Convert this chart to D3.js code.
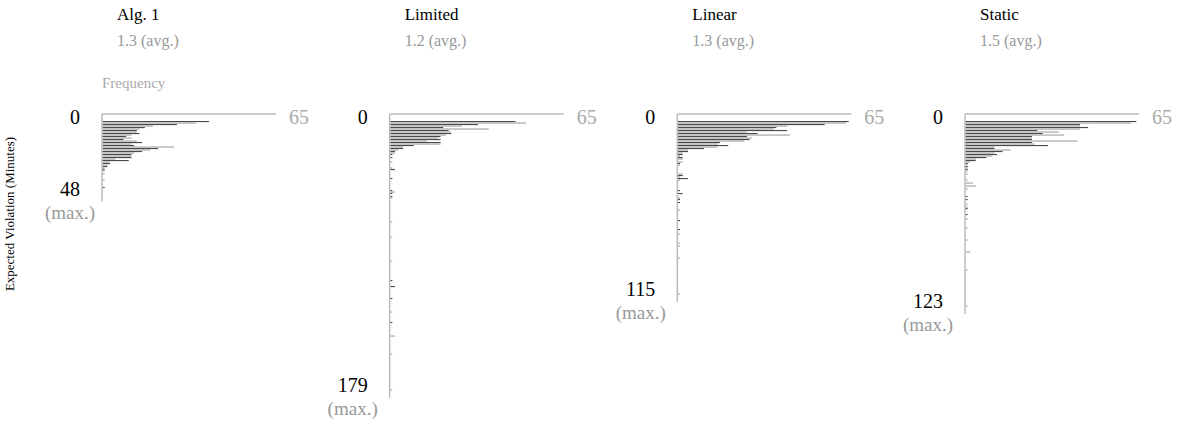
<!DOCTYPE html>
<html>
<head>
<meta charset="utf-8">
<script src="https://cdn.jsdelivr.net/npm/d3@7"></script>
<style>
  body { margin: 0; background: #fff; }
  text { font-family: "Liberation Serif", "Times New Roman", serif; }
</style>
</head>
<body>
<svg id="chart" width="1183" height="431"></svg>
<script>
// panel titles, averages and maxima (minutes)
const names = ["Alg. 1", "Limited", "Linear", "Static"];
const avgs = ["1.3", "1.2", "1.3", "1.5"];
const maxima = [48, 179, 115, 123];
const freqTop = 65;

// frequency per 1-minute bin starting at 0
const algHead = [40, 35, 28, 19, 16, 14, 13, 13, 14, 11, 9, 11, 8, 13, 15, 11, 12, 27, 21, 18, 15, 12, 11, 11, 11, 5, 10, 3, 3, 2, 2, 1, 1, 1];
const limitedHead = [47, 51, 33, 27, 20, 37, 22, 23, 23, 21, 19, 18, 19, 14, 19, 19, 9, 5, 5, 3, 2, 2, 1, 0, 1];
const linearHead = [64, 63, 55, 41, 37, 36, 41, 26, 30, 42, 26, 28, 27, 25, 16, 15, 19, 15, 10, 4, 4, 2, 2, 1, 2, 2, 0, 2, 1, 1];
const staticHead = [64, 62, 43, 43, 46, 43, 27, 35, 29, 37, 25, 25, 25, 42, 25, 26, 31, 11, 11, 17, 14, 11, 12, 10, 8, 4, 4, 2, 1, 1, 1, 1, 1, 1];

// sparse long tail: [minute, frequency]
const algTail = [[35, 1], [39, 1], [44, 1]];
const limitedTail = [[27, 1], [31, 1], [32, 2], [38, 1], [46, 1], [47, 2], [48, 1], [50, 1], [51, 1], [67, 1], [77, 1], [93, 1], [106, 1], [110, 2], [118, 1], [127, 1], [134, 1], [143, 2], [155, 1], [179, 1]];
const linearTail = [[35, 2], [36, 2], [37, 1], [38, 4], [39, 1], [46, 1], [48, 2], [51, 1], [52, 1], [54, 1], [59, 1], [66, 1], [72, 1], [75, 1], [81, 1], [83, 1], [91, 1], [115, 1]];
const staticTail = [[35, 1], [39, 1], [41, 3], [43, 4], [45, 1], [50, 1], [52, 1], [55, 1], [57, 1], [58, 1], [62, 1], [65, 1], [71, 1], [79, 1], [87, 2], [99, 1], [123, 1]];

const heads = [algHead, limitedHead, linearHead, staticHead];
const tails = [algTail, limitedTail, linearTail, staticTail];

const svg = d3.select("#chart");

const px = d3.scalePoint().domain(names).range([102, 965]);
const y = d3.scaleLinear().domain([0, 200]).range([121.5, 121.5 + 200 * 1.5]);
const topY = 114;
const barLen = 174;

const grey = "#999";

names.forEach((name, i) => {
  const ax = px(name);
  const x = d3.scaleLinear().domain([0, freqTop]).range([ax, ax + barLen]);
  const bins = heads[i].map((f, m) => ({ m: m, f: f }))
    .concat(tails[i].map(d => ({ m: d[0], f: d[1] })))
    .filter(d => d.f > 0);
  const yMax = y(maxima[i]);
  const endY = yMax + 8;

  const g = svg.append("g");

  g.append("text")
    .attr("x", ax + 15).attr("y", 20)
    .attr("font-size", 17).attr("fill", "#000")
    .text(name);
  g.append("text")
    .attr("x", ax + 15).attr("y", 46)
    .attr("font-size", 16).attr("fill", grey)
    .text(avgs[i] + " (avg.)");

  // axes
  g.append("line")
    .attr("x1", ax).attr("x2", x(freqTop))
    .attr("y1", topY).attr("y2", topY)
    .attr("stroke", "#bbb").attr("stroke-width", 1.5);
  g.append("line")
    .attr("x1", ax).attr("x2", ax)
    .attr("y1", topY).attr("y2", endY)
    .attr("stroke", "#bbb").attr("stroke-width", 1.5);

  g.selectAll("rect")
    .data(bins)
    .join("rect")
    .attr("x", ax + 0.75)
    .attr("y", d => y(d.m) - 0.5)
    .attr("width", d => Math.max(0, x(d.f) - ax - 0.75))
    .attr("height", 1.1)
    .attr("fill", d => d.m % 2 ? "#a0a0a0" : "#4a4a4a");

  g.append("text")
    .attr("x", ax - 22).attr("y", 124)
    .attr("text-anchor", "end")
    .attr("font-size", 20).attr("fill", "#000")
    .text("0");
  g.append("text")
    .attr("x", x(freqTop) + 13).attr("y", 124)
    .attr("font-size", 20).attr("fill", "#aaa")
    .text(freqTop);

  const mx = g.append("text")
    .attr("x", ax - 22).attr("y", yMax + 2)
    .attr("text-anchor", "end")
    .attr("font-size", 20).attr("fill", "#000")
    .text(maxima[i]);
  const bb = mx.node().getBBox();
  g.append("text")
    .attr("x", bb.x + bb.width / 2).attr("y", yMax + 25)
    .attr("text-anchor", "middle")
    .attr("font-size", 19).attr("fill", grey)
    .text("(max.)");

  if (i === 0) {
    g.append("text")
      .attr("x", ax).attr("y", 88)
      .attr("font-size", 15).attr("fill", "#aaa")
      .text("Frequency");
  }
});

svg.append("text")
  .attr("transform", "translate(14,214) rotate(-90)")
  .attr("text-anchor", "middle")
  .attr("font-size", 13).attr("fill", "#000")
  .text("Expected Violation (Minutes)");
</script>
</body>
</html>
